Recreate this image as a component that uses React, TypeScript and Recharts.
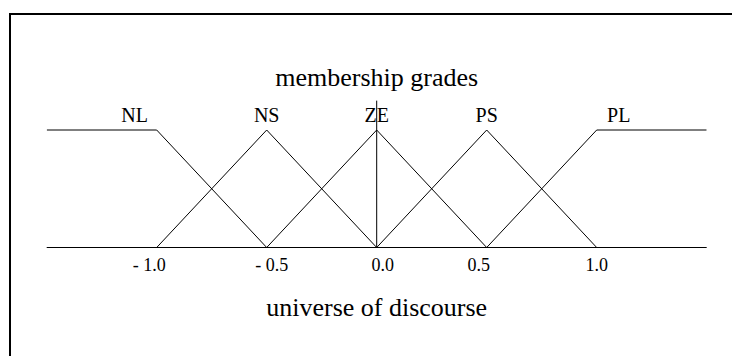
import React from "react";
import { LineChart, Line, XAxis, YAxis, ReferenceDot } from "recharts";

// membership functions (x, grade)
const NL = [
  { x: -1.5, y: 1 },
  { x: -1.0, y: 1 },
  { x: -0.5, y: 0 },
];
const NS = [
  { x: -1.0, y: 0 },
  { x: -0.5, y: 1 },
  { x: 0.0, y: 0 },
];
const ZE = [
  { x: -0.5, y: 0 },
  { x: 0.0, y: 1 },
  { x: 0.5, y: 0 },
];
const PS = [
  { x: 0.0, y: 0 },
  { x: 0.5, y: 1 },
  { x: 1.0, y: 0 },
];
const PL = [
  { x: 0.5, y: 0 },
  { x: 1.0, y: 1 },
  { x: 1.5, y: 1 },
];
const CENTER_AXIS = [
  { x: 0, y: 0 },
  { x: 0, y: 1.25 },
];

const SETS = [NL, NS, ZE, PS, PL];
const SET_NAMES = ["NL", "NS", "ZE", "PS", "PL"];
const SET_LABEL_X = [-1.1, -0.5, 0, 0.5, 1.1];

const TICKS = [-1, -0.5, 0, 0.5, 1];
const TICK_LABELS = ["- 1.0", "- 0.5", "0.0", "0.5", "1.0"];
const TICK_DX = [-7.5, 5, 6, -8, 0];

const TITLE_TOP = "membership grades";
const TITLE_BOTTOM = "universe of discourse";

const FONT = "Liberation Serif";

const Tick = (props: any) => {
  const { x, y, payload, index } = props;
  const i = TICKS.indexOf(payload.value);
  return (
    <text
      x={x + (TICK_DX[i] ?? 0)}
      y={y}
      dy={15}
      textAnchor="middle"
      style={{ fontFamily: FONT, fontSize: 18 }}
      fill="#000"
    >
      {TICK_LABELS[i >= 0 ? i : index]}
    </text>
  );
};

const textShape = (txt: string, size: number, dy: number) => (p: any) => (
  <text
    x={p.cx}
    y={p.cy + dy}
    textAnchor="middle"
    style={{ fontFamily: FONT, fontSize: size }}
    fill="#000"
  >
    {txt}
  </text>
);

export default function App() {
  return (
    <div style={{ position: "absolute", left: 0, top: 0, width: 732, height: 356, background: "#fff" }}>
      <div
        style={{
          position: "absolute",
          left: 9,
          top: 13,
          width: 740,
          height: 360,
          borderTop: "2.5px solid #000",
          borderLeft: "2.5px solid #000",
          boxSizing: "border-box",
        }}
      />
      <div style={{ position: "absolute", left: 0, top: 0 }}>
        <LineChart
          width={732}
          height={356}
          margin={{ top: 71.25, right: 25.3, bottom: 78.5, left: 46.7 }}
        >
          <XAxis
            dataKey="x"
            type="number"
            domain={[-1.5, 1.5]}
            ticks={TICKS}
            tickLine={false}
            axisLine={{ stroke: "#000", strokeWidth: 1 }}
            tick={<Tick />}
            height={30}
            allowDataOverflow
          />
          <YAxis type="number" domain={[0, 1.5]} hide />
          {SETS.map((d, i) => (
            <Line
              key={SET_NAMES[i]}
              data={d}
              dataKey="y"
              type="linear"
              stroke="#000"
              strokeWidth={1}
              dot={false}
              activeDot={false}
              isAnimationActive={false}
            />
          ))}
          <Line
            data={CENTER_AXIS}
            dataKey="y"
            type="linear"
            stroke="#000"
            strokeWidth={1}
            dot={false}
            activeDot={false}
            isAnimationActive={false}
          />
          {SET_NAMES.map((n, i) => (
            <ReferenceDot
              key={"lbl" + n}
              x={SET_LABEL_X[i]}
              y={1}
              r={0}
              ifOverflow="visible"
              shape={textShape(n, 20, -8)}
            />
          ))}
          <ReferenceDot
            x={0}
            y={1.374}
            r={0}
            ifOverflow="visible"
            shape={textShape(TITLE_TOP, 26, 0)}
          />
          <ReferenceDot
            x={0}
            y={-0.583}
            r={0}
            ifOverflow="visible"
            shape={textShape(TITLE_BOTTOM, 26, 0)}
          />
        </LineChart>
      </div>
    </div>
  );
}
